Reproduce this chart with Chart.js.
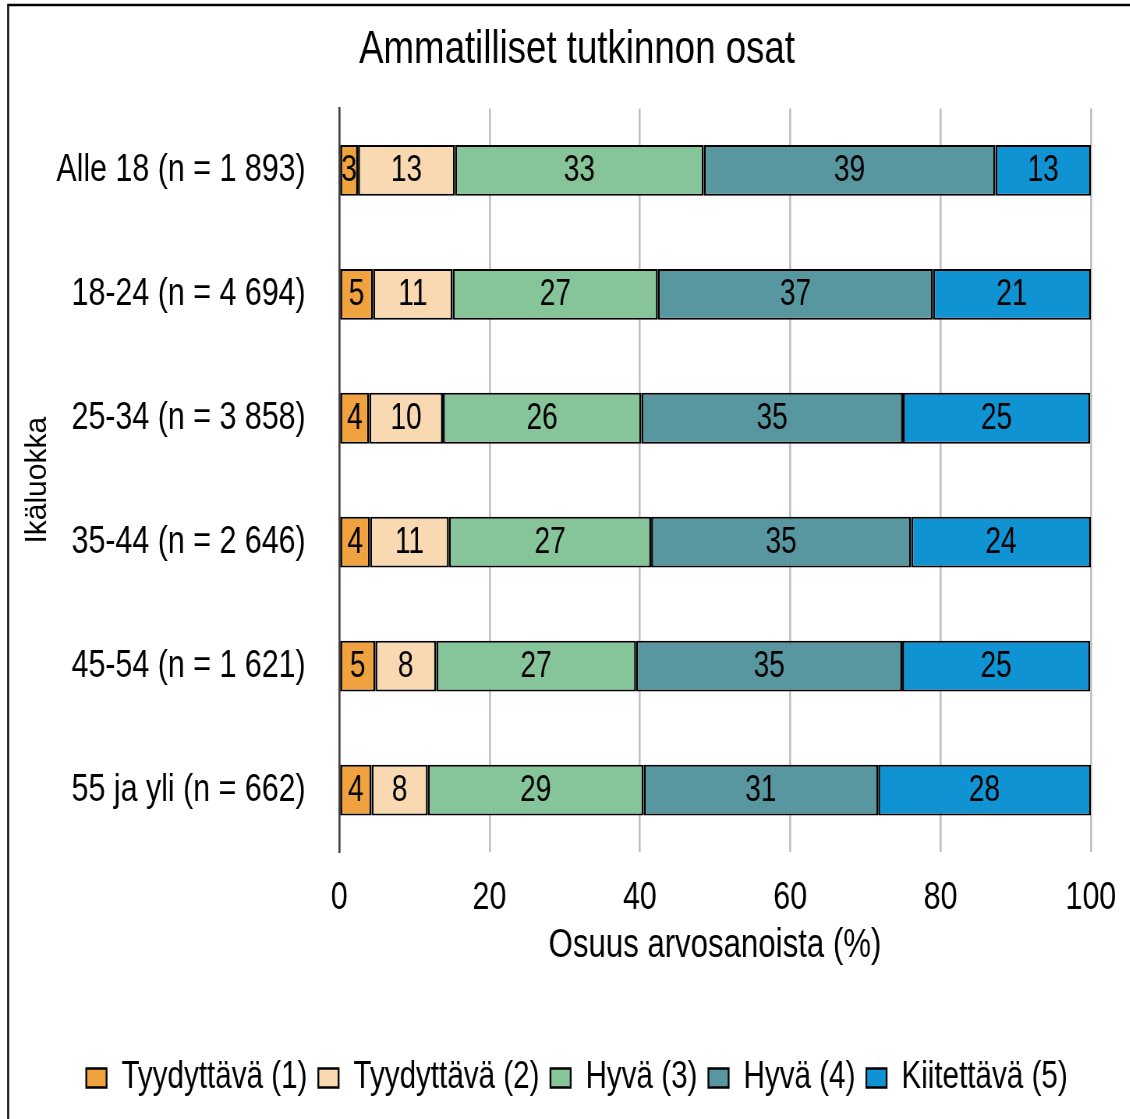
<!DOCTYPE html>
<html>
<head>
<meta charset="utf-8">
<script src="https://cdn.jsdelivr.net/npm/chart.js@4.4.0/dist/chart.umd.min.js"></script>
<style>
html,body{margin:0;padding:0;background:#fff;overflow:hidden;}
#wrap{width:1130px;height:1119px;position:relative;overflow:hidden;}
#c{display:block;}
</style>
</head>
<body>
<div id="wrap"><canvas id="c" width="1480" height="1119" style="width:1154.4px;height:1119px;"></canvas></div>
<script>
const categories = ["Alle 18 (n = 1 893)", "18-24 (n = 4 694)", "25-34 (n = 3 858)", "35-44 (n = 2 646)", "45-54 (n = 1 621)", "55 ja yli (n = 662)"];
const seriesNames = ["Tyydyttävä (1)", "Tyydyttävä (2)", "Hyvä (3)", "Hyvä (4)", "Kiitettävä (5)"];
const grade1 = [2.5, 4.5, 4.0, 4.1, 4.8, 4.3];
const grade2 = [12.9, 10.6, 9.8, 10.5, 8.1, 7.5];
const grade3 = [33.1, 27.3, 26.4, 26.9, 26.6, 28.7];
const grade4 = [38.8, 36.6, 34.8, 34.6, 35.4, 31.2];
const grade5 = [12.7, 21.0, 24.9, 23.9, 25.0, 28.3];
const xTicks = [0, 20, 40, 60, 80, 100];
const yAxisTitle = 'Ikäluokka';
const colors = ["#F0A23E", "#F8D9B2", "#86C599", "#5897A0", "#0F93D3"];

const FONT = "'Liberation Sans', Arial, sans-serif";
const XSCALE = 1154.4 / 1480;

const frame = {
  id: 'frame',
  beforeDraw(chart) {
    const ctx = chart.ctx;
    ctx.save();
    ctx.fillStyle = '#fff';
    ctx.fillRect(0, 0, chart.width, chart.height);
    ctx.strokeStyle = '#000';
    ctx.beginPath();
    ctx.moveTo(10.4, 1200);
    ctx.lineTo(10.4, 5);
    ctx.lineTo(1500, 5);
    ctx.lineWidth = 2.4;
    ctx.stroke();
    ctx.restore();
  },
  afterDraw(chart) {
    // y-axis title, drawn rotated and counter-scaled so it keeps normal proportions
    const ctx = chart.ctx;
    const area = chart.chartArea;
    ctx.save();
    ctx.translate(38 / XSCALE, (area.top + area.bottom) / 2);
    ctx.scale(1 / XSCALE, 1);
    ctx.rotate(-Math.PI / 2);
    ctx.font = "30px " + FONT;
    ctx.fillStyle = '#000';
    ctx.textAlign = 'center';
    ctx.textBaseline = 'middle';
    ctx.fillText(yAxisTitle, 0, 0);
    ctx.restore();
  }
};

const barLabels = {
  id: 'barLabels',
  afterDatasetsDraw(chart) {
    const ctx = chart.ctx;
    ctx.save();
    ctx.font = "36px " + FONT;
    ctx.fillStyle = '#000';
    ctx.textAlign = 'center';
    ctx.textBaseline = 'middle';
    chart.data.datasets.forEach((ds, i) => {
      const meta = chart.getDatasetMeta(i);
      meta.data.forEach((el, j) => {
        const cx = (el.x + el.base) / 2;
        ctx.fillText(String(Math.round(ds.data[j])), cx, el.y + 1);
      });
    });
    ctx.restore();
  }
};

const allSeries = [grade1, grade2, grade3, grade4, grade5];

new Chart(document.getElementById('c'), {
  type: 'bar',
  data: {
    labels: categories,
    datasets: allSeries.map((d, i) => ({
      label: seriesNames[i],
      data: d,
      backgroundColor: colors[i],
      borderColor: '#000',
      borderWidth: { top: 2, bottom: 2, left: 2.6, right: 2.6 },
      borderSkipped: false,
      categoryPercentage: 1,
      barPercentage: 0.41
    }))
  },
  options: {
    indexAxis: 'y',
    responsive: false,
    animation: false,
    devicePixelRatio: 1,
    layout: { padding: { left: 0, right: 0, top: 0, bottom: 12 } },
    plugins: {
      title: {
        display: true,
        text: 'Ammatilliset tutkinnon osat',
        color: '#000',
        font: { family: FONT, size: 47, weight: 'normal', lineHeight: 1.2 },
        padding: { top: 22, bottom: 30 }
      },
      legend: {
        position: 'bottom',
        labels: {
          color: '#000',
          font: { family: FONT, size: 38 },
          boxWidth: 26,
          boxHeight: 19,
          padding: 14
        }
      },
      tooltip: { enabled: false }
    },
    scales: {
      x: {
        stacked: true,
        min: 0,
        max: 100,
        afterBuildTicks(scale) { scale.ticks = xTicks.map(v => ({ value: v })); },
        afterFit(scale) { scale.height = 193; },
        ticks: { color: '#000', font: { family: FONT, size: 39 }, padding: 23, maxRotation: 0 },
        grid: { color: '#BFBFBF', lineWidth: 2.6, drawTicks: false },
        border: { display: false },
        title: {
          display: true,
          text: 'Osuus arvosanoista (%)',
          color: '#000',
          font: { family: FONT, size: 40, lineHeight: 1.2 },
          padding: { top: 0, bottom: 75 }
        }
      },
      y: {
        stacked: true,
        afterFit(scale) { scale.width = 435; },
        ticks: { color: '#000', font: { family: FONT, size: 39 }, padding: 43 },
        grid: { display: false, drawTicks: false },
        border: { display: true, color: '#404040', width: 2.6 },
        title: { display: false, text: yAxisTitle }
      },
      yRight: {
        type: 'linear',
        axis: 'y',
        position: 'right',
        display: true,
        afterFit(scale) { scale.width = 81; },
        ticks: { display: false },
        grid: { display: false, drawTicks: false },
        border: { display: false }
      }
    }
  },
  plugins: [frame, barLabels]
});
</script>
</body>
</html>
